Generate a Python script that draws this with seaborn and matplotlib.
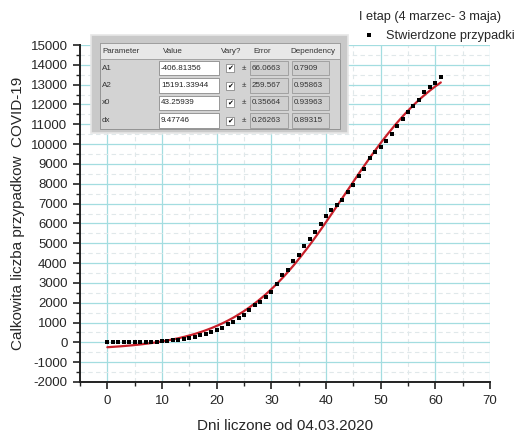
import numpy as np
import pandas as pd
import matplotlib
matplotlib.use("Agg")
import matplotlib.pyplot as plt
from matplotlib.patches import Rectangle
from matplotlib.ticker import MultipleLocator
import seaborn as sns

# ---- data ----
days = list(range(0, 62))
cases = [0, 0, 1, 1, 5, 6, 11, 17, 22, 31, 51, 68, 104, 125, 177, 238, 251, 355,
         425, 536, 634, 749, 901, 1051, 1221, 1389, 1638, 1862, 2055, 2311, 2554,
         2946, 3383, 3627, 4102, 4413, 4848, 5205, 5575, 5955, 6356, 6674, 6934,
         7202, 7582, 7918, 8379, 8742, 9287, 9593, 9856, 10169, 10511, 10892,
         11273, 11617, 11902, 12218, 12640, 12877, 13105, 13375]

param_names = ["A1", "A2", "x0", "dx"]
param_values = ["-406.81356", "15191.33944", "43.25939", "9.47746"]
param_errors = ["66.0663", "259.567", "0.35664", "0.26263"]
param_dep = ["0.7909", "0.95863", "0.93963", "0.89315"]
A1, A2, X0, DX = [float(v) for v in param_values]

xticks = [0, 10, 20, 30, 40, 50, 60, 70]
yticks = list(range(-2000, 15001, 1000))

df = pd.DataFrame({"day": days, "cases": cases})
fit_x = np.linspace(0, 61, 200)
fit_df = pd.DataFrame({"day": fit_x,
                       "fit": A2 + (A1 - A2) / (1 + np.exp((fit_x - X0) / DX))})

# ---- style ----
sns.set_style("white")
plt.rcParams["font.family"] = ["Liberation Sans", "DejaVu Sans"]

fig = plt.figure(figsize=(5.26, 4.32), dpi=100)
ax = fig.add_axes([80/526, 1-382/432, (490-80)/526, (382-45)/432])

sns.lineplot(data=fit_df, x="day", y="fit", ax=ax, color="#c8202a", lw=1.6,
             zorder=3, legend=False)
sns.scatterplot(data=df, x="day", y="cases", ax=ax, color="black", marker="s",
                s=5.5, linewidth=0, zorder=4, label="Stwierdzone przypadki")

ax.set_xlim(-5, 70)
ax.set_ylim(-2000, 15000)
ax.set_xticks(xticks)
ax.set_yticks(yticks)
ax.xaxis.set_minor_locator(MultipleLocator(5))
ax.yaxis.set_minor_locator(MultipleLocator(500))
ax.set_yticklabels([str(v) for v in yticks])

ax.grid(which="major", color="#a3dde0", lw=0.9, zorder=0)
ax.grid(which="minor", color="#e0e8ea", lw=0.8, ls=(0, (4, 3)), zorder=0)
ax.set_axisbelow(True)

for s in ["top", "right"]:
    ax.spines[s].set_visible(False)
for s in ["left", "bottom"]:
    ax.spines[s].set_color("#222222")
    ax.spines[s].set_linewidth(1.4)

ax.tick_params(which="major", direction="out", length=5, width=1.2,
               labelsize=9.5, color="#222222", pad=4, left=True, bottom=True)
ax.tick_params(which="minor", direction="out", length=3, width=1.0,
               color="#222222", left=True, bottom=True)

ax.set_xlabel("Dni liczone od 04.03.2020", fontsize=11, labelpad=9)
ax.set_ylabel("Calkowita liczba przypadkow  COVID-19", fontsize=11, labelpad=4)

leg = ax.legend(title="I etap (4 marzec- 3 maja)", loc="upper left",
                bbox_to_anchor=(354/526, 1-6/432), bbox_transform=fig.transFigure,
                frameon=False, fontsize=9.2, title_fontsize=9.2, handletextpad=0.5,
                handlelength=1.6, markerscale=1.3, borderaxespad=0)
leg._legend_box.align = "left"

# ---- parameter table panel (figure pixel coords) ----
def px(x, y):
    return (x/526, 1 - y/432)

def rect(x0, y0, x1, y1, fc, ec="none", lw=0.8):
    xa, ya = px(x0, y1)
    fig.patches.append(Rectangle((xa, ya), (x1-x0)/526, (y1-y0)/432,
                                 transform=fig.transFigure, fc=fc, ec=ec,
                                 lw=lw, zorder=10))

rect(91, 35, 348, 133, "#c9c9c9", ec="#e6e6e6", lw=1.2)
rect(100, 43, 340, 129, "#d3d3d3", ec="#8a8a8a", lw=0.6)
rect(100, 43, 340, 59, "#e8e8e8", ec="#9a9a9a", lw=0.6)

tfs = 5.8
header = [("Parameter", 102), ("Value", 163), ("Vary?", 221), ("Error", 253), ("Dependency", 290)]
for t, x in header:
    fig.text(*px(x, 51.5), t, fontsize=tfs, va="center", ha="left", color="#333333", zorder=11)

rows_y = [68, 85.5, 103, 120.5]
for name, val, err, dep, y in zip(param_names, param_values, param_errors, param_dep, rows_y):
    fig.text(*px(102, y), name, fontsize=tfs, va="center", ha="left", color="#333333", zorder=11)
    rect(159, y-7, 219, y+7, "white", ec="#8a8a8a", lw=0.6)
    fig.text(*px(161, y), val, fontsize=tfs, va="center", ha="left", color="#222222", zorder=11)
    rect(226, y-4, 234, y+4, "white", ec="#777777", lw=0.5)
    fig.text(*px(230, y), "\u2714", fontsize=5, va="center", ha="center",
             color="black", zorder=12, family="DejaVu Sans")
    fig.text(*px(244, y), "\u00b1", fontsize=tfs, va="center", ha="center", color="#333333", zorder=11)
    rect(250, y-7, 288, y+7, "#cfcfcf", ec="#9a9a9a", lw=0.6)
    fig.text(*px(252, y), err, fontsize=tfs, va="center", ha="left", color="#333333", zorder=11)
    rect(292, y-7, 329, y+7, "#cfcfcf", ec="#9a9a9a", lw=0.6)
    fig.text(*px(294, y), dep, fontsize=tfs, va="center", ha="left", color="#333333", zorder=11)

fig.savefig("out.png", dpi=100)
